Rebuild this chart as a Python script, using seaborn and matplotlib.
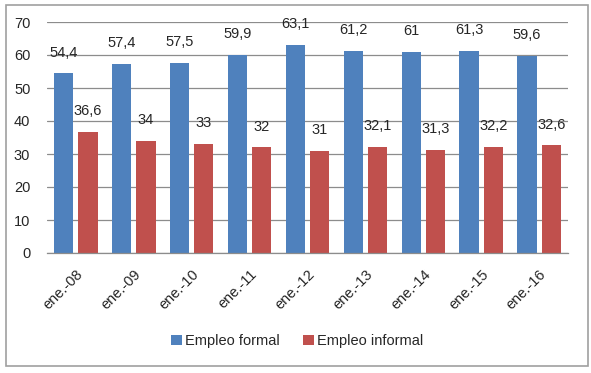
import matplotlib
matplotlib.use("Agg")
import matplotlib.pyplot as plt
import seaborn as sns
import pandas as pd
from matplotlib.patches import Rectangle

categories = ["ene.-08", "ene.-09", "ene.-10", "ene.-11", "ene.-12",
              "ene.-13", "ene.-14", "ene.-15", "ene.-16"]
formal = [54.4, 57.4, 57.5, 59.9, 63.1, 61.2, 61.0, 61.3, 59.6]
informal = [36.6, 34.0, 33.0, 32.0, 31.0, 32.1, 31.3, 32.2, 32.6]
series_names = ["Empleo formal", "Empleo informal"]
colors = ["#4F81BD", "#C0504D"]
yticks = [0, 10, 20, 30, 40, 50, 60, 70]

df = pd.DataFrame({
    "cat": categories * 2,
    "val": formal + informal,
    "serie": [series_names[0]] * len(categories) + [series_names[1]] * len(categories),
})

sns.set_style("white")
plt.rcParams["font.family"] = ["Liberation Sans", "DejaVu Sans"]

fig = plt.figure(figsize=(5.91, 3.73), dpi=100)
ax = fig.add_axes([47 / 591, 1 - 253 / 373, (568 - 47) / 591, (253 - 22) / 373])

sns.barplot(data=df, x="cat", y="val", hue="serie", palette=colors,
            width=0.84, gap=0.21, ax=ax, legend=True, saturation=1, linewidth=0)

ax.set_ylim(0, 70)
ax.set_xlim(-0.5, len(categories) - 0.5)
ax.set_yticks(yticks)
ax.set_yticklabels([str(v) for v in yticks], fontsize=10.5)
ax.yaxis.grid(True, color="#8C8C8C", linewidth=0.9)
ax.set_axisbelow(True)
for s in ["top", "right", "left"]:
    ax.spines[s].set_visible(False)
ax.spines["bottom"].set_color("#8C8C8C")
ax.spines["bottom"].set_linewidth(0.9)
ax.tick_params(axis="y", length=0, pad=12)
ax.tick_params(axis="x", length=0, pad=10)
ax.set_xlabel("")
ax.set_ylabel("")
ax.set_xticks(range(len(categories)))
ax.set_xticklabels(categories, rotation=45, ha="right", rotation_mode="anchor", fontsize=10.5)

def fmt(v):
    s = ("%.1f" % v).replace(".", ",")
    if s.endswith(",0"):
        s = s[:-2]
    return s

for cont in ax.containers:
    ax.bar_label(cont, labels=[fmt(v) for v in cont.datavalues], padding=10, fontsize=10.5)

ax.legend(loc="center", bbox_to_anchor=(297 / 591, 1 - 341 / 373),
          bbox_transform=fig.transFigure, ncol=2, frameon=False, fontsize=10.5,
          handlelength=0.75, handleheight=0.75, handletextpad=0.2, columnspacing=1.6)

fig.patches.append(Rectangle((6 / 591, 1 - 366 / 373), (588 - 6) / 591, (366 - 5) / 373,
                             transform=fig.transFigure, fill=False,
                             edgecolor="#A0A0A0", linewidth=1.2))

fig.savefig("out.png", dpi=100)
